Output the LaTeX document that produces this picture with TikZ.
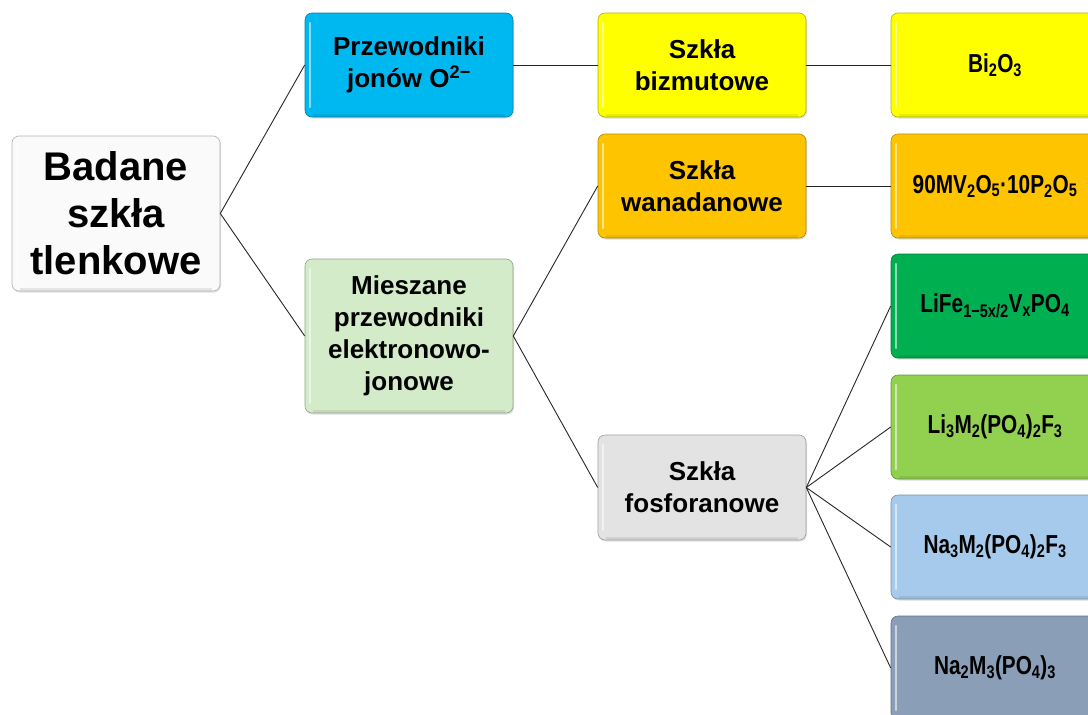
\documentclass[tikz,border=0pt]{standalone}
\usepackage{fontspec}
\usepackage{graphicx}
\setmainfont{Liberation Sans}
\usetikzlibrary{shadows}
\newcommand\sbs[1]{\textsubscript{#1}}
\newcommand\sps[1]{\textsuperscript{#1}}
\newcommand\narrow[1]{\scalebox{0.8}[1]{#1}}
\definecolor{cRoot}{HTML}{FAFAFA}
\definecolor{cPrz}{HTML}{00B8F0}
\definecolor{cMie}{HTML}{D3EBC8}
\definecolor{cBiz}{HTML}{FFFF00}
\definecolor{cWan}{HTML}{FFC400}
\definecolor{cFos}{HTML}{E3E3E3}
\definecolor{cLiFe}{HTML}{00B050}
\definecolor{cLiM}{HTML}{92D050}
\definecolor{cNaF}{HTML}{A6CAEC}
\definecolor{cNaM}{HTML}{8A9EB8}
\begin{document}
\begin{tikzpicture}[x=1pt,y=-1pt,
  box/.style={draw=#1!70!black, fill=#1, line width=0.6pt, rounded corners=7pt,
    minimum width=208pt, minimum height=104pt, align=center, inner sep=2pt,
    font=\bfseries\fontsize{26}{32}\selectfont,
    drop shadow={shadow xshift=1pt,shadow yshift=-1.5pt,opacity=0.25},
    path picture={
      \draw[white, opacity=0.55, line width=2.5pt, line cap=round]
        ([xshift=5pt,yshift=-10pt]path picture bounding box.north west) --
        ([xshift=5pt,yshift=10pt]path picture bounding box.south west);
      \draw[black, opacity=0.08, line width=3pt]
        ([xshift=8pt,yshift=2pt]path picture bounding box.south west) --
        ([xshift=-8pt,yshift=2pt]path picture bounding box.south east);
    }},
  tall/.style={minimum height=154pt},
  rootbox/.style={box=cRoot, draw=black!30, minimum height=155pt,
    font=\bfseries\fontsize{40}{47}\selectfont},
  conn/.style={draw=black!85, line width=0.9pt}
]
\useasboundingbox (0,0) rectangle (1088,715);

\node[rootbox] (root) at (116,213.5) {Badane\\szkła\\tlenkowe};

\node[box=cPrz] (prz) at (409,65) {Przewodniki\\jonów O\sps{2−}};
\node[box=cMie, tall] (mie) at (409,336) {Mieszane\\przewodniki\\elektronowo-\\jonowe};

\node[box=cBiz] (biz) at (702,65) {Szkła\\bizmutowe};
\node[box=cWan] (wan) at (702,186) {Szkła\\wanadanowe};
\node[box=cFos, minimum height=105pt] (fos) at (702,487.5) {Szkła\\fosforanowe};

\node[box=cBiz] (bi) at (995,65) {\narrow{Bi\sbs{2}O\sbs{3}}};
\node[box=cWan] (mv) at (995,186) {\narrow{90MV\sbs{2}O\sbs{5}·10P\sbs{2}O\sbs{5}}};
\node[box=cLiFe] (life) at (995,306) {\narrow{LiFe\sbs{1−5x/2}V\sbs{x}PO\sbs{4}}};
\node[box=cLiM] (lim) at (995,427) {\narrow{Li\sbs{3}M\sbs{2}(PO\sbs{4})\sbs{2}F\sbs{3}}};
\node[box=cNaF] (naf) at (995,547) {\narrow{Na\sbs{3}M\sbs{2}(PO\sbs{4})\sbs{2}F\sbs{3}}};
\node[box=cNaM] (nam) at (995,668) {\narrow{Na\sbs{2}M\sbs{3}(PO\sbs{4})\sbs{3}}};

\draw[conn] (root.east) -- (prz.west);
\draw[conn] (root.east) -- (mie.west);
\draw[conn] (prz.east) -- (biz.west);
\draw[conn] (mie.east) -- (wan.west);
\draw[conn] (mie.east) -- (fos.west);
\draw[conn] (biz.east) -- (bi.west);
\draw[conn] (wan.east) -- (mv.west);
\draw[conn] (fos.east) -- (life.west);
\draw[conn] (fos.east) -- (lim.west);
\draw[conn] (fos.east) -- (naf.west);
\draw[conn] (fos.east) -- (nam.west);
\end{tikzpicture}
\end{document}
